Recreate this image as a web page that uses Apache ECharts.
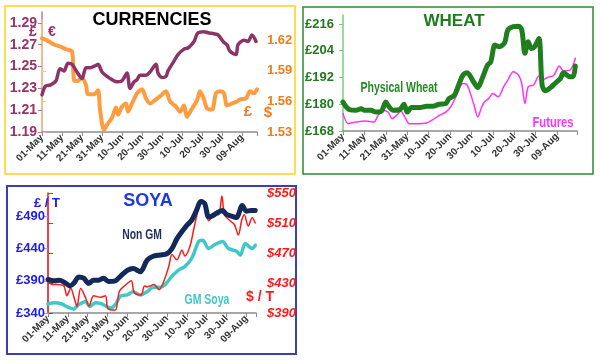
<!DOCTYPE html>
<html><head><meta charset="utf-8">
<script src="https://cdn.jsdelivr.net/npm/echarts@6/dist/echarts.min.js"></script>
<style>html,body{margin:0;padding:0;background:#fff;}#c{width:600px;height:363px;}</style>
</head><body><div id="c"></div>
<script>
// ---- tick labels ----
const xLabels = ['01-May','11-May','21-May','31-May','10-Jun','20-Jun','30-Jun','10-Jul','20-Jul','30-Jul','09-Aug'];

// ---- CURRENCIES (day offset from 01-May) ----
const eurDays = [0,1.7,4,7,9,11,13,15,17.5,20,22,24,27,28,30,32.5,35,37.5,40,42.5,44,46,47.5,49,52,54,57,58,60,62,63,66,68,71,73,76,78,81,83,86,88,91,92.5,94,97,98,101,103,105,107];
const eurVals = [1.224,1.232,1.233,1.237,1.248,1.246,1.253,1.252,1.245,1.239,1.249,1.249,1.251,1.252,1.245,1.241,1.238,1.236,1.237,1.244,1.230,1.236,1.238,1.242,1.242,1.245,1.252,1.244,1.240,1.241,1.246,1.255,1.261,1.266,1.267,1.273,1.281,1.282,1.281,1.280,1.279,1.272,1.270,1.264,1.261,1.270,1.274,1.273,1.279,1.273];
const usdDays = [0,2.5,6,9,12.5,15,16,17.5,20,22,23,26,28,29,31,32.5,35,37,38,40,42,43,45,47.5,50,52,54,57,59,62,64,67,69,71,72.5,75,77.5,79,81,82.5,85,87,89,91,92.5,95,97.5,99,102,104,106,107.5];
const usdVals = [1.622,1.620,1.616,1.614,1.611,1.609,1.581,1.580,1.583,1.576,1.567,1.567,1.571,1.552,1.532,1.537,1.544,1.554,1.547,1.555,1.558,1.550,1.558,1.568,1.572,1.563,1.558,1.562,1.565,1.570,1.560,1.555,1.550,1.556,1.545,1.553,1.561,1.570,1.562,1.553,1.552,1.568,1.570,1.568,1.556,1.558,1.560,1.562,1.563,1.570,1.568,1.572];

// ---- WHEAT ----
const physDays = [0,1.5,3,6,8.5,10,13,15.5,18,20,21,23.5,26.5,28.5,30,32,36,39,42,45,48,49.5,52,54,56,58,61,63,65,67.5,69,71,73,75.5,77,79.5,82,83.5,85,86.5,88,89.5,91.5,93,94.5,97,99,101.5,103,106,107.5,108.5];
const physVals = [181.0,178.8,177.6,177.3,178.0,177.3,177.3,176.5,177.0,181.0,179.5,177.3,177.6,180.0,176.5,178.5,178.5,179.1,179.1,180.0,180.3,182.5,184.0,188.6,193.0,194.1,190.0,187.5,191.5,197.5,199.0,206.5,205.8,207.6,213.3,214.8,215.0,213.3,202.8,208.0,205.0,205.8,209.5,188.6,186.0,187.5,189.3,191.5,194.1,192.3,192.3,197.1];
const futDays = [0,2.5,6,10.5,14.5,16,18.5,21,23,25,27,29,31,34,39,42,45,48,50.5,53,56,58,61,63,64.5,66,68,70,72.5,75,77,79.5,82,83.5,85,86.5,89,91.5,93,95.5,98.5,101,103,106,107.5,108.5];
const futVals = [175.8,171.3,172.0,172.5,172.0,174.3,177.3,176.5,173.5,175.0,176.8,174.0,171.3,171.3,171.6,173.1,175.0,176.5,179.1,184.0,189.3,188.6,180.3,174.3,178.0,181.0,182.5,184.8,183.3,187.8,190.8,194.6,193.0,189.3,180.3,187.8,188.6,192.6,190.8,192.0,193.0,197.1,195.0,195.3,197.6,200.6];

// ---- SOYA ----
const nonDays = [0,3,6,9,11,13,15.5,18,20.5,23,25.5,28,30.5,34,36.5,40,43,46.5,50,53,56.5,60,62.5,65,67.5,70,72.5,75,77,79,81,83,85,88,90,93,95,98,100,102.5,104.5];
const nonVals = [392,390,391,386,382,386,396,394,386,391,391,394,389,390,397,406,409,404,422,428,430,432,440,455,466,476,484,500,513,510,489,491,495,499,493,490,488,507,498,499,499];
const gmDays = [0,3.5,7,9.5,13,15.5,19,21,24,26.5,29,31.5,34,36.5,40,43,46.5,50,53,56.5,59,62.5,66,69,72.5,76,78,81,84,88,91,95,97,99.5,103,104.5];
const gmVals = [354,356,354,350,346,353,358,350,356,355,351,348,353,366,368,373,368,373,380,380,384,397,407,412,425,451,453,440,446,451,440,436,430,448,440,445];
const redDays = [0,2,4.5,8,9.5,11.5,13,14.6,16.5,19,20.7,23,26.5,29,30,32,34,36,38.5,42,43.5,47,48.6,50,53.5,56,58.5,61,62.5,65,67.6,69,71.6,73.6,76,77.7,79,81,82.3,83.7,86,87.7,89,91.8,94,96,97.7,99,101,103,104.5];
const redVals = [434,428,428,426,413,423,412,399,423,410,399,413,411,413,397,394,394,419,426,433,417,414,426,425,428,421,433,453,468,461,474,466,479,503,530,541,534,513,517,523,521,546,521,513,508,494,514,521,506,517,510];

const FONT = "'Liberation Sans', Arial, sans-serif";

function pairs(days, vals, base) { return days.map((d, i) => [d, +(vals[i] - (base || 0)).toFixed(4)]); }

function xAx(grid, max, show) {
  return {
    type: 'value', gridIndex: grid, min: 0, max: max, interval: 10, show: show,
    axisLine: { show: true, lineStyle: { color: '#8c8c8c', width: 1.5 } },
    axisTick: { show: true, length: 4, lineStyle: { color: '#8c8c8c', width: 1 } },
    splitLine: { show: false },
    axisLabel: {
      rotate: 45, margin: 4, fontSize: 10, fontWeight: 'bold', color: '#333', fontFamily: FONT,
      formatter: v => (Math.abs(v % 10) < 1e-6 && v / 10 < xLabels.length) ? xLabels[Math.round(v / 10)] : ''
    }
  };
}

function yAx(grid, pos, min, max, interval, color, lineColor, fmt, margin, italic, tickLen, showMax, fs) {
  return {
    type: 'value', gridIndex: grid, position: pos, min: min, max: max, interval: interval,
    axisLine: { show: true, lineStyle: { color: lineColor, width: 1.5 } },
    axisTick: { show: true, length: tickLen || 4, lineStyle: { color: lineColor, width: 1 } },
    splitLine: { show: false },
    axisLabel: { showMaxLabel: !!showMax, margin: margin, fontSize: fs || 13, fontWeight: 'bold', fontStyle: italic ? 'italic' : 'normal', color: color, fontFamily: FONT, formatter: fmt }
  };
}

function line(xi, yi, data, color, width, z) {
  return { type: 'line', xAxisIndex: xi, yAxisIndex: yi, data: data, showSymbol: false, smooth: 0.3, z: z || 2,
    lineStyle: { color: color, width: width, cap: 'round', join: 'round' }, itemStyle: { color: color } };
}

function txt(x, y, text, color, size, sx) {
  return { type: 'text', x: x, y: y, scaleX: sx || 1, z: 10, style: { text: text, fill: color, font: 'bold ' + size + 'px ' + FONT, textAlign: 'center', textVerticalAlign: 'middle' } };
}

const chart = echarts.init(document.getElementById('c'), null, { renderer: 'canvas' });
chart.setOption({
  animation: false,
  backgroundColor: '#fff',
  grid: [
    { left: 42, top: 12, width: 215, height: 120 },   // 0 currencies EUR
    { left: 42, top: 20, width: 215, height: 112 },   // 1 currencies USD
    { left: 343, top: 15, width: 234, height: 116 },  // 2 wheat
    { left: 48, top: 197, width: 208, height: 116 },  // 3 soya £
    { left: 48, top: 193, width: 208, height: 120 }   // 4 soya $
  ],
  xAxis: [
    xAx(0, 107.5, true), xAx(1, 107.5, false),
    xAx(2, 109.3, true),
    xAx(3, 104.9, true), xAx(4, 104.9, false)
  ],
  yAxis: [
    yAx(0, 'left', 0, 0.11, 0.02, '#993366', '#b87a98', v => (v + 1.19).toFixed(2), 5, false, 4, false, 14),
    yAx(1, 'right', 0, 0.11, 0.03, '#f07c1e', '#ffc48a', v => (v + 1.53).toFixed(2), 10),
    yAx(2, 'left', 168, 220, 12, '#1e7b1e', '#7ccc7c', v => '£' + v, 9),
    yAx(3, 'left', 0, 180, 50, '#2020e8', '#9a9aff', v => '£' + (v + 340), 3),
    yAx(4, 'right', 0, 160, 40, '#ff1a1a', '#ff1a1a', v => '$' + (v + 390), 11, true, 5, true)
  ],
  series: [
    line(0, 0, pairs(eurDays, eurVals, 1.19), '#8c3468', 3.5, 3),
    line(1, 1, pairs(usdDays, usdVals, 1.53), '#ff9c40', 4, 2),
    line(2, 2, pairs(futDays, futVals), '#ff33ff', 1.5, 2),
    line(2, 2, pairs(physDays, physVals), '#1f7f1f', 5, 3),
    line(3, 3, pairs(gmDays, gmVals, 340), '#40c8c8', 3.5, 2),
    line(4, 4, pairs(redDays, redVals, 390), '#ff1a1a', 1.5, 3),
    line(3, 3, pairs(nonDays, nonVals, 340), '#12295a', 5, 4)
  ],
  graphic: [
    { type: 'rect', shape: { x: 5, y: 6, width: 290, height: 168 }, style: { fill: 'none', stroke: '#ffd21a', lineWidth: 1.5 }, z: 0 },
    { type: 'rect', shape: { x: 303, y: 7, width: 290, height: 167 }, style: { fill: 'none', stroke: '#2e8b2e', lineWidth: 1.5 }, z: 0 },
    { type: 'rect', shape: { x: 7, y: 186, width: 289, height: 168 }, style: { fill: 'none', stroke: '#3d3db8', lineWidth: 2 }, z: 0 },
    txt(152, 20, 'CURRENCIES', '#000', 18),
    txt(33, 32, '£', '#993366', 14),
    txt(52, 32, '€', '#993366', 14),
    txt(248, 112, '£', '#f07c1e', 15),
    txt(268, 113, '$', '#f07c1e', 15),
    txt(454, 21, 'WHEAT', '#1e7b1e', 17),
    txt(399, 88, 'Physical Wheat', '#228b22', 14, 0.75),
    txt(553, 123, 'Futures', '#ff33ff', 14, 0.8),
    txt(142, 235, 'Non GM', '#1f2f5f', 14, 0.74),
    txt(148, 201, 'SOYA', '#1c3ae0', 18),
    txt(47, 203, '£ / T', '#2020e8', 13),
    txt(260, 297, '$ / T', '#ff1a1a', 14),
    txt(207, 300, 'GM Soya', '#40c8c8', 14, 0.75)
  ]
});
</script>
</body></html>
